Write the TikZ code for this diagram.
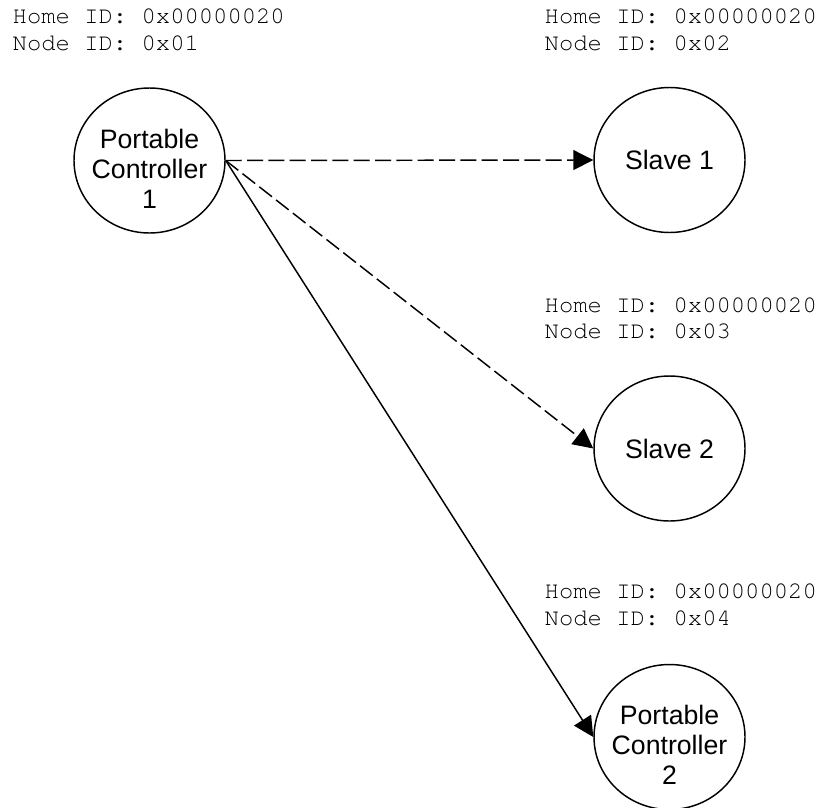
\documentclass[tikz,border=0pt]{standalone}
\usepackage{fontspec}
\setmainfont{Liberation Sans}
\newfontfamily\idfont{TeX Gyre Cursor}
\usetikzlibrary{shapes.geometric,arrows.meta}

\tikzset{every picture/.style={line width=1.1pt}}
\tikzset{
  station/.style={draw, ellipse, minimum width=113.25pt, minimum height=108.75pt, inner sep=-12pt, align=center, font=\fontsize{20pt}{22.5pt}\selectfont},
  stationtall/.style={station, text height=71.6pt},
  idtext/.style={anchor=base west, inner sep=0pt, font=\idfont\fontsize{17.9pt}{20pt}\selectfont},
  link/.style={-{Triangle[length=15pt,width=15pt]}},
  linkdash/.style={link, dash pattern=on 12pt off 4pt}
}

\begin{document}
\begin{tikzpicture}[x=0.75pt,y=0.75pt,yscale=-1,xscale=1]
\useasboundingbox (0,0) rectangle (820,807);

%Shape: Ellipse
\node[stationtall] (pc1) at (149.5,160.5) {Portable\\Controller\\1};
\node[station] (slave1) at (669.5,160) {Slave 1};
\node[station] (slave2) at (669.5,448.5) {Slave 2};
\node[stationtall] (pc2) at (669.5,737) {Portable\\Controller\\2};

% Text Node
\node[idtext] (home1) at (12,23) {Home ID: 0x00000020};
\node[idtext] (id1) at (12,50) {Node ID: 0x01};
% Text Node
\node[idtext] (home2) at (544,23) {Home ID: 0x00000020};
\node[idtext] (id2) at (544,50) {Node ID: 0x02};
% Text Node
\node[idtext] (home3) at (544,312) {Home ID: 0x00000020};
\node[idtext] (id3) at (544,338) {Node ID: 0x03};
% Text Node
\node[idtext] (home4) at (544,598) {Home ID: 0x00000020};
\node[idtext] (id4) at (544,625) {Node ID: 0x04};

%Straight Lines
\draw[linkdash] (pc1.east) -- (slave1.west);
\draw[linkdash] (pc1.east) -- (slave2.west);
\draw[link] (pc1.east) -- (pc2.west);

\end{tikzpicture}
\end{document}
